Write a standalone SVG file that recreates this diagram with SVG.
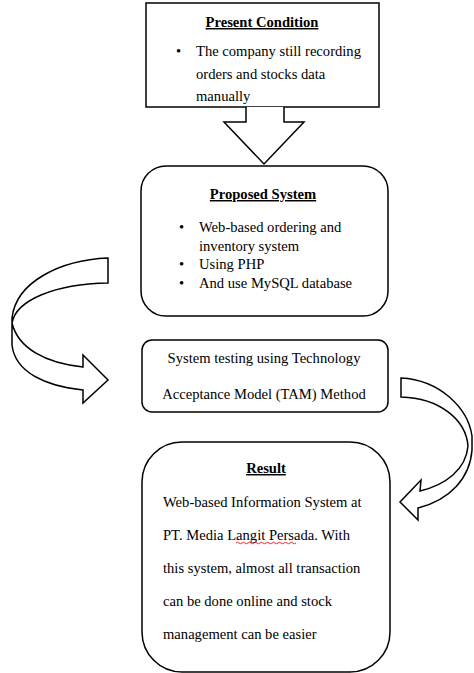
<svg xmlns="http://www.w3.org/2000/svg" width="474" height="673" viewBox="0 0 474 673">
<style>
.box{fill:#fff;stroke:#000;stroke-width:1.5}
.arr{fill:#fff;stroke:#000;stroke-width:1.5;stroke-linejoin:miter}
.ln{fill:none;stroke:#000;stroke-width:1.5}
text{font-family:"Liberation Serif","Times New Roman",serif;font-size:14.6px;fill:#000}
.t{font-weight:bold;text-decoration:underline;text-anchor:middle}
.c{text-anchor:middle}
</style>
<rect width="474" height="673" fill="#fff"/>
<g id="present">
<rect class="box" x="146" y="3" width="233" height="104"/>
<text class="t" x="262" y="27">Present Condition</text>
<text x="176" y="56">•</text>
<text x="196" y="56">The company still recording</text>
<text x="196" y="79">orders and stocks data</text>
<text x="196" y="101">manually</text>
</g>
<g id="proposed">
<rect class="box" x="141" y="166" width="247" height="150" rx="25" ry="25"/>
<text class="t" x="263" y="199">Proposed System</text>
<text x="179" y="232">•</text>
<text x="199" y="232">Web-based ordering and</text>
<text x="199" y="251">inventory system</text>
<text x="179" y="269">•</text>
<text x="199" y="269">Using PHP</text>
<text x="179" y="288">•</text>
<text x="199" y="288">And use MySQL database</text>
</g>
<g id="testing">
<rect class="box" x="142" y="340" width="246" height="72" rx="10" ry="10"/>
<text class="c" x="264" y="363">System testing using Technology</text>
<text class="c" x="264" y="399">Acceptance Model (TAM) Method</text>
</g>
<g id="result">
<rect class="box" x="142" y="442" width="248" height="230" rx="40" ry="40"/>
<text class="t" x="266" y="473">Result</text>
<text x="163" y="507">Web-based Information System at</text>
<text x="163" y="540">PT. Media Langit Persada. With</text>
<text x="163" y="573">this system, almost all transaction</text>
<text x="163" y="606">can be done online and stock</text>
<text x="163" y="639">management can be easier</text>
<path d="M236,543 q1.5,-1.5 3,0 t3,0 t3,0 t3,0 t3,0 t3,0 t3,0 t3,0 t3,0 t3,0 t3,0 t3,0 t3,0 t3,0 t3,0 t3,0 t3,0 t3,0 t3,0 t3,0" fill="none" stroke="#c00" stroke-width="0.8"/>
</g>
<g id="connectors">
<path class="arr" d="M246,107 L246,122 L224,122 L264,164 L304,122 L284,122 L284,107"/>
<path class="arr" d="M108,258 C60,260 16,282 12,318 L12,345 C15,372 45,386 83,390 L83,403 L108,380 L83,355 L83,367 C45,363 18,348 12,323 C16,300 55,284 108,283 Z"/>
<path class="arr" d="M401,378 C440,380 468,408 472,436 L472,450 C470,478 450,500 418,508 L418,520 L400,502 L421,480 L420,491 C445,485 466,470 468,446 C466,420 440,398 401,397 Z"/>
</g>
</svg>
